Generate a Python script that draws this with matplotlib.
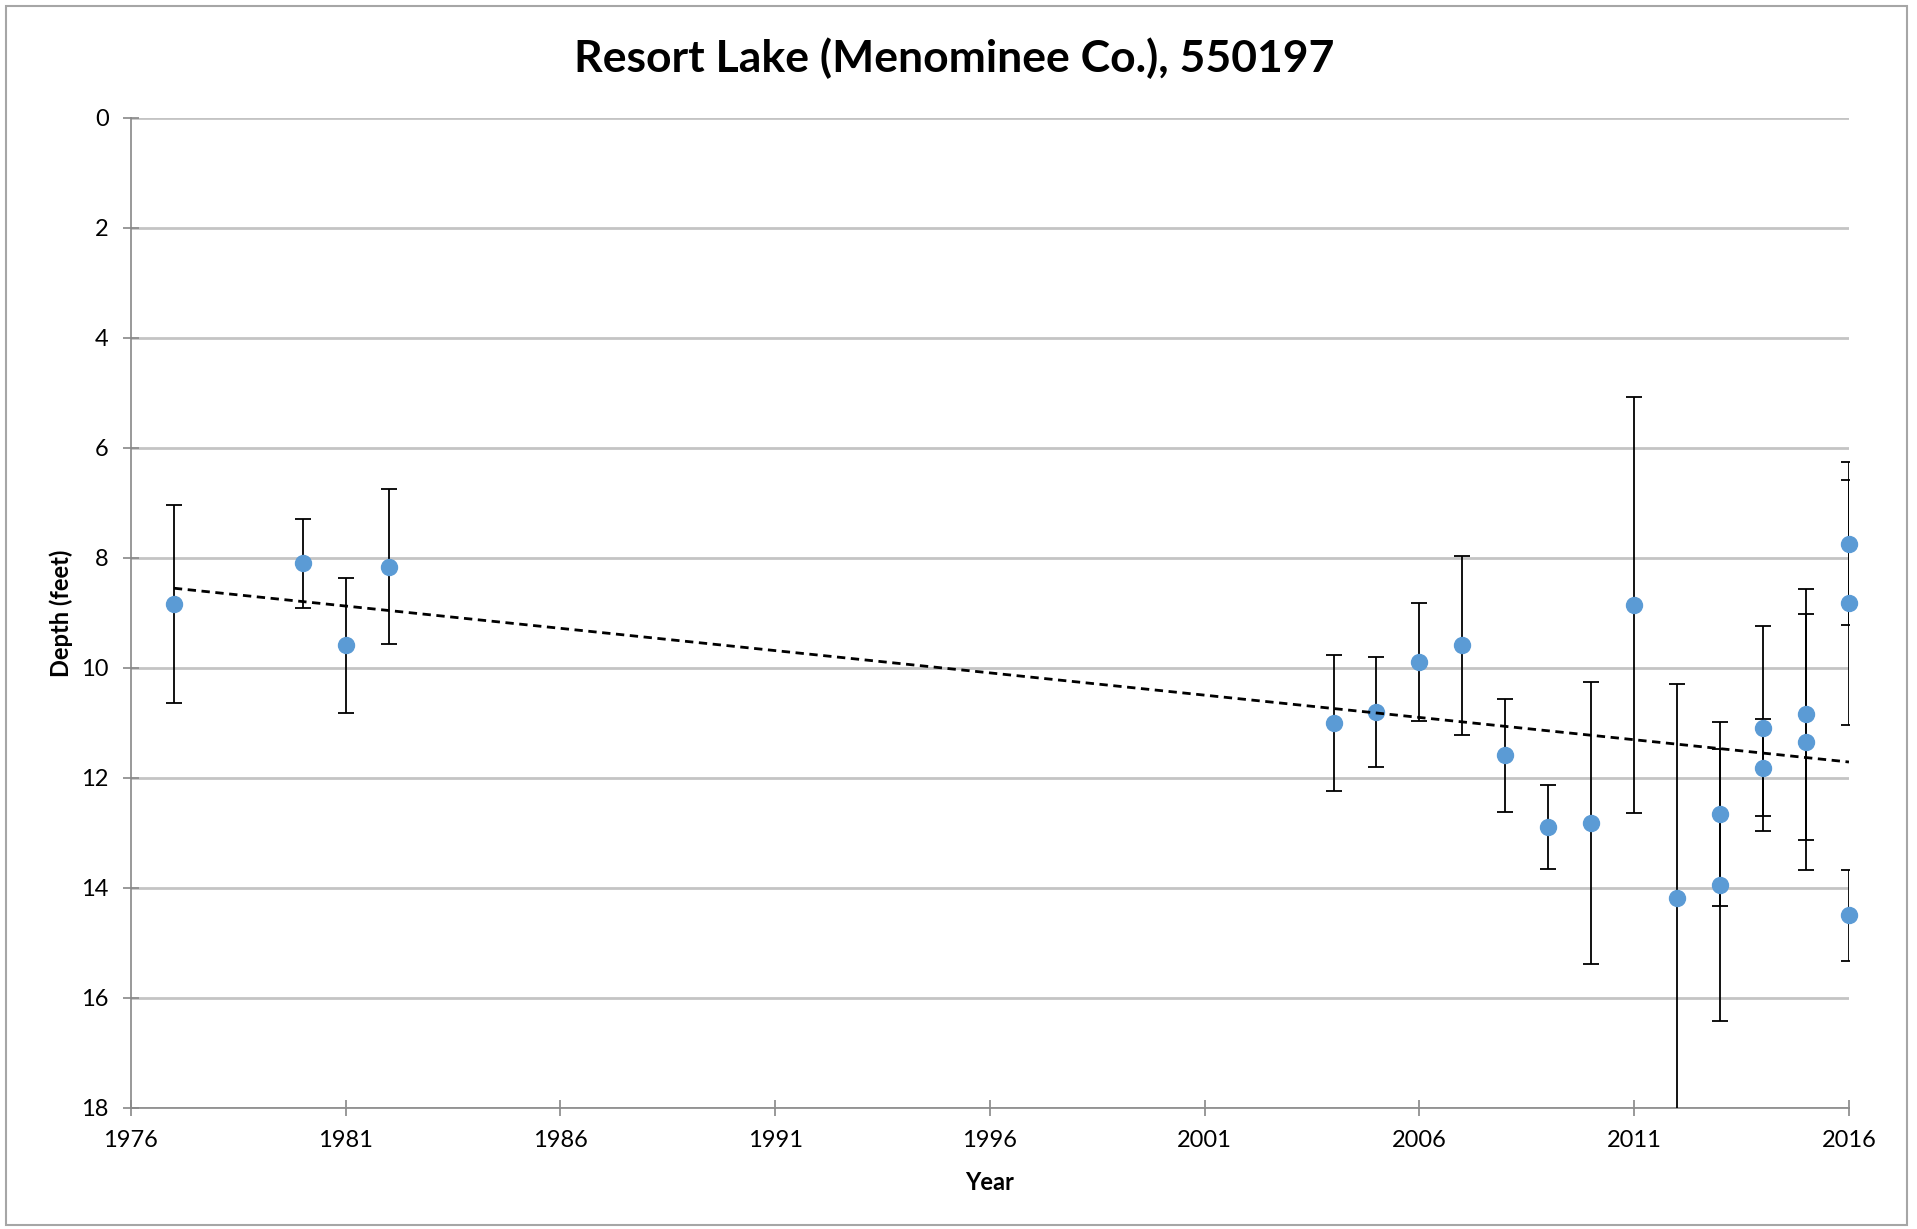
import matplotlib
matplotlib.use('Agg')
import matplotlib.pyplot as plt
import numpy as np
from matplotlib.patches import Rectangle

plt.rcParams['font.family'] = ['Lato', 'DejaVu Sans']

# depth readings (feet) with symmetric error
years = [1977, 1980, 1981, 1982, 2004, 2005, 2006, 2007, 2008, 2009, 2010, 2011,
         2012, 2013, 2013, 2014, 2014, 2015, 2015, 2016, 2016, 2016]
depth = [8.83, 8.10, 9.59, 8.16, 11.00, 10.80, 9.89, 9.59, 11.59, 12.89, 12.82, 8.85,
         14.19, 12.65, 13.95, 11.10, 11.81, 10.84, 11.35, 7.74, 8.81, 14.50]
err = [1.80, 0.81, 1.23, 1.41, 1.24, 1.00, 1.08, 1.62, 1.02, 0.77, 2.57, 3.78,
       3.90, 1.67, 2.47, 1.87, 0.89, 2.28, 2.33, 1.48, 2.23, 0.83]

trend_x = [1977, 2016]
trend_y = [8.55, 11.71]

fig = plt.figure(figsize=(19.17, 12.29), dpi=100)
ax = fig.add_axes([0.0683, 0.0985, 0.8962, 0.8055])

ax.errorbar(years, depth, yerr=err, fmt='none', ecolor='black',
            elinewidth=1.3, capsize=6, capthick=1.3, zorder=3)
ax.plot(years, depth, 'o', color='#5B9BD5', markersize=11.5, clip_on=False, zorder=4)
ax.plot(trend_x, trend_y, color='black', linestyle=(0, (3, 2)), linewidth=2, zorder=5)

ax.set_xlim(1976, 2016)
ax.set_ylim(18, 0)
ax.set_xticks(range(1976, 2017, 5))
ax.set_yticks(range(0, 19, 2))
ax.yaxis.grid(True, color='#C4C4C4', linewidth=2)
ax.set_axisbelow(True)
for s in ['top', 'right']:
    ax.spines[s].set_visible(False)
for s in ['left', 'bottom']:
    ax.spines[s].set_color('#888888')
    ax.spines[s].set_linewidth(1.2)
ax.tick_params(direction='inout', length=12, width=1.2, color='#888888',
               labelsize=17, pad=10)

fig.text(0.498, 0.953, 'Resort Lake (Menominee Co.), 550197', fontsize=32,
         fontweight='bold', ha='center', va='center')
ax.set_xlabel('Year', fontsize=17, fontweight='bold', labelpad=14)
ax.set_ylabel('Depth (feet)', fontsize=17, fontweight='bold', labelpad=6)

fig.patches.append(Rectangle((0.003, 0.003), 0.992, 0.992, transform=fig.transFigure,
                             fill=False, edgecolor='#A6A6A6', linewidth=1.5))

fig.savefig('out.png', dpi=100)
